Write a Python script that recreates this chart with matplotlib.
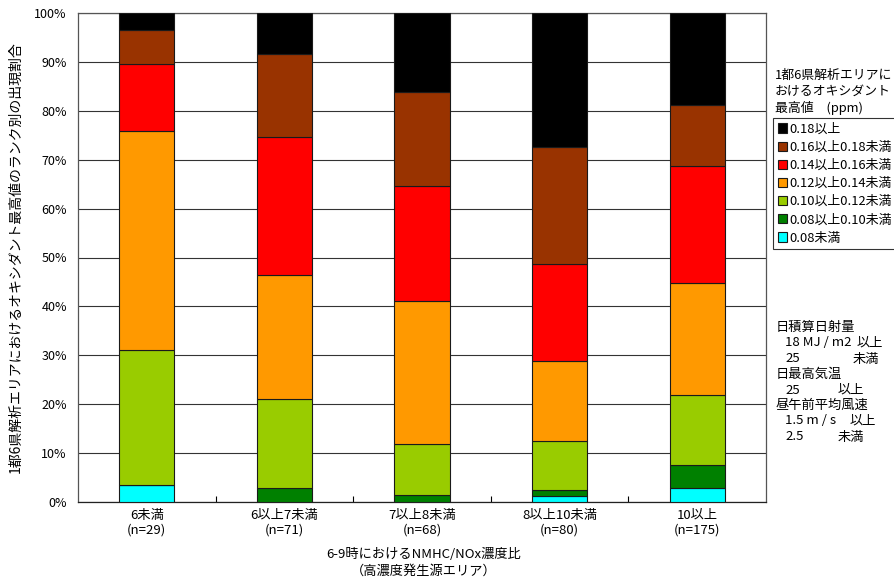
import matplotlib
matplotlib.use("Agg")
import matplotlib.pyplot as plt
import numpy as np

plt.rcParams['font.family'] = ['Noto Sans CJK JP', 'DejaVu Sans']

# NMHC/NOx ratio classes and sample counts
categories = ["6未満", "6以上7未満", "7以上8未満", "8以上10未満", "10以上"]
sample_counts = [29, 71, 68, 80, 175]

# Share (%) of each oxidant-maximum rank, bottom to top
rank_labels = ["0.08未満", "0.08以上0.10未満", "0.10以上0.12未満", "0.12以上0.14未満",
               "0.14以上0.16未満", "0.16以上0.18未満", "0.18以上"]
share_lt008 = [3.4, 0.0, 0.0, 1.25, 2.9]
share_008_010 = [0.0, 2.8, 1.5, 1.25, 4.6]
share_010_012 = [27.6, 18.3, 10.3, 10.0, 14.3]
share_012_014 = [44.8, 25.4, 29.4, 16.25, 22.9]
share_014_016 = [13.8, 28.2, 23.5, 20.0, 24.0]
share_016_018 = [6.9, 16.9, 19.1, 23.75, 12.5]
share_ge018 = [3.5, 8.4, 16.2, 27.5, 18.8]

rank_colors = ["#00FFFF", "#008000", "#99CC00", "#FF9900", "#FF0000", "#993300", "#000000"]

series = [share_lt008, share_008_010, share_010_012, share_012_014,
          share_014_016, share_016_018, share_ge018]

fig = plt.figure(figsize=(8.95, 5.81), dpi=100)
ax = fig.add_axes([78 / 895, 1 - 502 / 581, (766 - 78) / 895, (502 - 13) / 581])

x = np.arange(len(categories))
bottom = np.zeros(len(categories))
handles = []
for vals, col, lab in zip(series, rank_colors, rank_labels):
    vals = np.asarray(vals, dtype=float)
    b = ax.bar(x, vals, width=0.4, bottom=bottom, color=col, edgecolor="#1a1a1a",
               linewidth=0.8, label=lab, zorder=3)
    handles.append(b)
    bottom += vals

ax.set_xlim(-0.5, len(categories) - 0.5)
ax.set_ylim(0, 100)
ax.set_yticks(np.arange(0, 101, 10))
ax.set_yticklabels([f"{v}%" for v in range(0, 101, 10)], fontsize=9)
ax.yaxis.grid(True, color="#333333", linewidth=0.8, zorder=0)
ax.tick_params(axis="y", length=0, pad=8)

ax.set_xticks(x)
ax.set_xticklabels([f"{c}\n(n={n})" for c, n in zip(categories, sample_counts)],
                   fontsize=9.5, linespacing=1.15)
ax.set_xticks(np.arange(0.5, len(categories) - 0.5, 1), minor=True)
ax.tick_params(axis="x", which="major", length=0, pad=5)
ax.tick_params(axis="x", which="minor", direction="in", length=4, width=0.8)

for s in ax.spines.values():
    s.set_color("#555555")
    s.set_linewidth(0.9)
ax.spines["bottom"].set_color("#222222")

ax.set_ylabel("1都6県解析エリアにおけるオキシダント最高値のランク別の出現割合", fontsize=10)
ax.yaxis.set_label_coords(-0.08, 0.5)

fig.text(424 / 895, 1 - 555 / 581, "6-9時におけるNMHC/NOx濃度比", ha="center", va="center", fontsize=9.5)
fig.text(424 / 895, 1 - 571 / 581, "（高濃度発生源エリア）", ha="center", va="center", fontsize=9.5)

# Legend title and legend
for i, line in enumerate(["1都6県解析エリアに", "おけるオキシダント", "最高値　(ppm)"]):
    fig.text(775 / 895, 1 - (75 + 16.5 * i) / 581, line, ha="left", va="center", fontsize=9.3)

leg = fig.legend(handles=handles[::-1], labels=rank_labels[::-1],
                 loc="upper left", bbox_to_anchor=(773 / 895, 1 - 118 / 581),
                 fontsize=9.3, frameon=True, fancybox=False, edgecolor="black",
                 handlelength=0.7, handleheight=0.7, handletextpad=0.2,
                 labelspacing=0.4, borderpad=0.35, borderaxespad=0)
leg.get_frame().set_linewidth(0.8)

# Meteorological conditions
cond = [
    (776, 327, "日積算日射量"),
    (785, 343, "18 MJ / m2"), (857, 343, "以上"),
    (785, 359, "25"), (853, 359, "未満"),
    (776, 374, "日最高気温"),
    (785, 390, "25"), (838, 390, "以上"),
    (776, 405, "昼午前平均風速"),
    (785, 421, "1.5 m / s"), (850, 421, "以上"),
    (785, 437, "2.5"), (838, 437, "未満"),
]
for px, py, t in cond:
    fig.text(px / 895, 1 - py / 581, t, ha="left", va="center", fontsize=9.5)

fig.savefig("out.png", dpi=100, facecolor="white")
